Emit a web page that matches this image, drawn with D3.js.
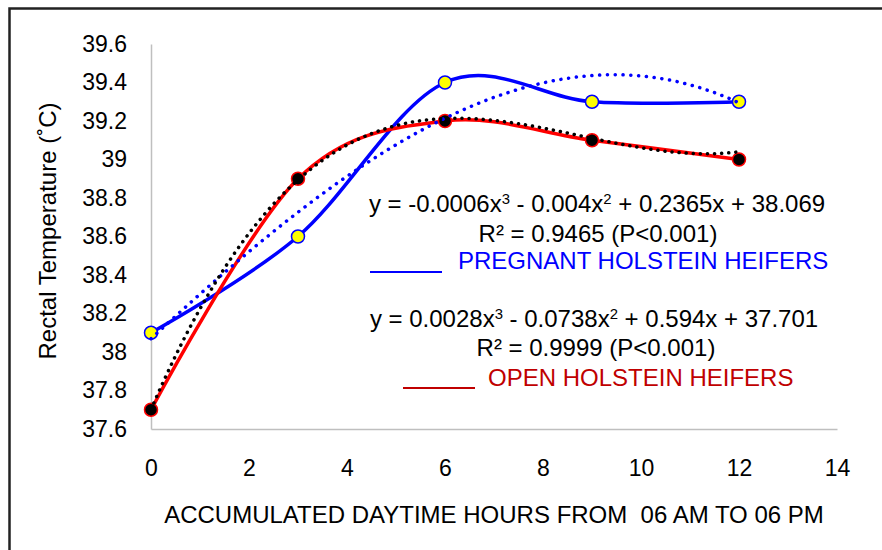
<!DOCTYPE html>
<html>
<head>
<meta charset="utf-8">
<script src="https://cdn.jsdelivr.net/npm/d3@7"></script>
<style>
  html, body { margin: 0; padding: 0; background: #fff; }
  svg { display: block; font-family: "Liberation Sans", Arial, sans-serif; }
</style>
</head>
<body>
<svg id="chart" width="882" height="550"></svg>
<script>
// ---- data ----
const hours = [0, 3, 6, 9, 12];
const pregnant = [38.1, 38.6, 39.4, 39.3, 39.3];
const open = [37.7, 38.9, 39.2, 39.1, 39.0];
// cubic trendline coefficients as printed on the chart (x^3, x^2, x, const)
const pregnantTrendCoef = [-0.0006, -0.004, 0.2365, 38.069];
const openTrendCoef = [0.0028, -0.0738, 0.594, 37.701];
const xTicks = [0, 2, 4, 6, 8, 10, 12, 14];
const yTicks = [37.6, 37.8, 38, 38.2, 38.4, 38.6, 38.8, 39, 39.2, 39.4, 39.6];

const svg = d3.select("#chart");
const fs = 24;
const fsTick = 23;

// outer border
svg.append("rect").attr("x", 9.5).attr("y", 8.5).attr("width", 900).attr("height", 600)
  .attr("fill", "none").attr("stroke", "#222").attr("stroke-width", 2.5);

const x = d3.scaleLinear().domain([0, 14]).range([151, 837]);
const y = d3.scaleLinear().domain([37.6, 39.6]).range([429, 44]);

// axes
const xAxis = svg.append("g").attr("transform", `translate(0,${y(37.6)})`)
  .call(d3.axisBottom(x).tickValues(xTicks).tickSize(0).tickPadding(0).tickFormat(d3.format("d")));
xAxis.select(".domain").attr("stroke", "#bfbfbf").attr("stroke-width", 1.5);
xAxis.selectAll("text").attr("font-size", fsTick).attr("fill", "#000").attr("dy", null)
  .attr("y", 46.5).attr("font-family", "Liberation Sans, Arial, sans-serif");

const yAxis = svg.append("g").attr("transform", `translate(${x(0)},0)`)
  .call(d3.axisLeft(y).tickValues(yTicks).tickSize(0).tickPadding(24).tickFormat(d => String(+d.toFixed(1))));
yAxis.select(".domain").attr("stroke", "#bfbfbf").attr("stroke-width", 1.5);
yAxis.selectAll("text").attr("font-size", fsTick).attr("fill", "#000")
  .attr("font-family", "Liberation Sans, Arial, sans-serif");

// axis titles
svg.append("text").attr("x", 494).attr("y", 523).attr("text-anchor", "middle")
  .attr("font-size", fs).attr("fill", "#000").attr("xml:space", "preserve")
  .text("ACCUMULATED DAYTIME HOURS FROM  06 AM TO 06 PM");
svg.append("text").attr("transform", "translate(56,231) rotate(-90)").attr("text-anchor", "middle")
  .attr("font-size", fs).attr("fill", "#000").text("Rectal Temperature (˚C)");

// series
const line = d3.line().x(d => x(d[0])).y(d => y(d[1])).curve(d3.curveCatmullRom.alpha(0));
const pregPts = hours.map((h, i) => [h, pregnant[i]]);
const openPts = hours.map((h, i) => [h, open[i]]);

svg.append("path").attr("d", line(pregPts)).attr("fill", "none").attr("stroke", "#0000ff").attr("stroke-width", 3.5);
svg.append("path").attr("d", line(openPts)).attr("fill", "none").attr("stroke", "#ff0000").attr("stroke-width", 3.5);

svg.selectAll(".mp").data(pregPts).join("circle").attr("cx", d => x(d[0])).attr("cy", d => y(d[1]))
  .attr("r", 6.5).attr("fill", "#ffff00").attr("stroke", "#0000ff").attr("stroke-width", 1.5);
svg.selectAll(".mo").data(openPts).join("circle").attr("cx", d => x(d[0])).attr("cy", d => y(d[1]))
  .attr("r", 6.5).attr("fill", "#000").attr("stroke", "#ff0000").attr("stroke-width", 1.5);

// trendlines
function poly(c, t) { return c[0]*t*t*t + c[1]*t*t + c[2]*t + c[3]; }
const tSteps = d3.range(0, 12.0001, 0.1);
const tl = d3.line().x(d => x(d)).curve(d3.curveLinear);
svg.append("path").attr("d", tl.y(d => y(poly(pregnantTrendCoef, d)))(tSteps))
  .attr("fill", "none").attr("stroke", "#0000ff").attr("stroke-width", 3.5)
  .attr("stroke-linecap", "round").attr("stroke-dasharray", "0.1 7.7");
svg.append("path").attr("d", tl.y(d => y(poly(openTrendCoef, d)))(tSteps))
  .attr("fill", "none").attr("stroke", "#000").attr("stroke-width", 3.5)
  .attr("stroke-linecap", "round").attr("stroke-dasharray", "0.1 7");

// equation labels
function eq(xc, yb, parts) {
  const t = svg.append("text").attr("x", xc).attr("y", yb).attr("text-anchor", "middle")
    .attr("font-size", fs).attr("fill", "#000");
  parts.forEach(p => {
    const s = t.append("tspan").text(p[0]);
    if (p[1]) s.attr("baseline-shift", "super").attr("font-size", fs * 0.62);
  });
}
eq(597, 212, [["y = -0.0006x"], ["3", 1], [" - 0.004x"], ["2", 1], [" + 0.2365x + 38.069"]]);
svg.append("text").attr("x", 598).attr("y", 242).attr("text-anchor", "middle").attr("font-size", fs)
  .attr("fill", "#000").text("R² = 0.9465 (P<0.001)");
eq(594, 327, [["y = 0.0028x"], ["3", 1], [" - 0.0738x"], ["2", 1], [" + 0.594x + 37.701"]]);
svg.append("text").attr("x", 596).attr("y", 356).attr("text-anchor", "middle").attr("font-size", fs)
  .attr("fill", "#000").text("R² = 0.9999 (P<0.001)");

// legend entries
svg.append("line").attr("x1", 370).attr("x2", 442).attr("y1", 272).attr("y2", 272)
  .attr("stroke", "#0000ff").attr("stroke-width", 1.8);
svg.append("text").attr("x", 458).attr("y", 269).attr("font-size", fs).attr("fill", "#0000ff")
  .text("PREGNANT HOLSTEIN HEIFERS");
svg.append("line").attr("x1", 403).attr("x2", 475).attr("y1", 388).attr("y2", 388)
  .attr("stroke", "#c00000").attr("stroke-width", 1.8);
svg.append("text").attr("x", 488).attr("y", 386).attr("font-size", fs).attr("fill", "#c00000")
  .text("OPEN HOLSTEIN HEIFERS");
</script>
</body>
</html>
